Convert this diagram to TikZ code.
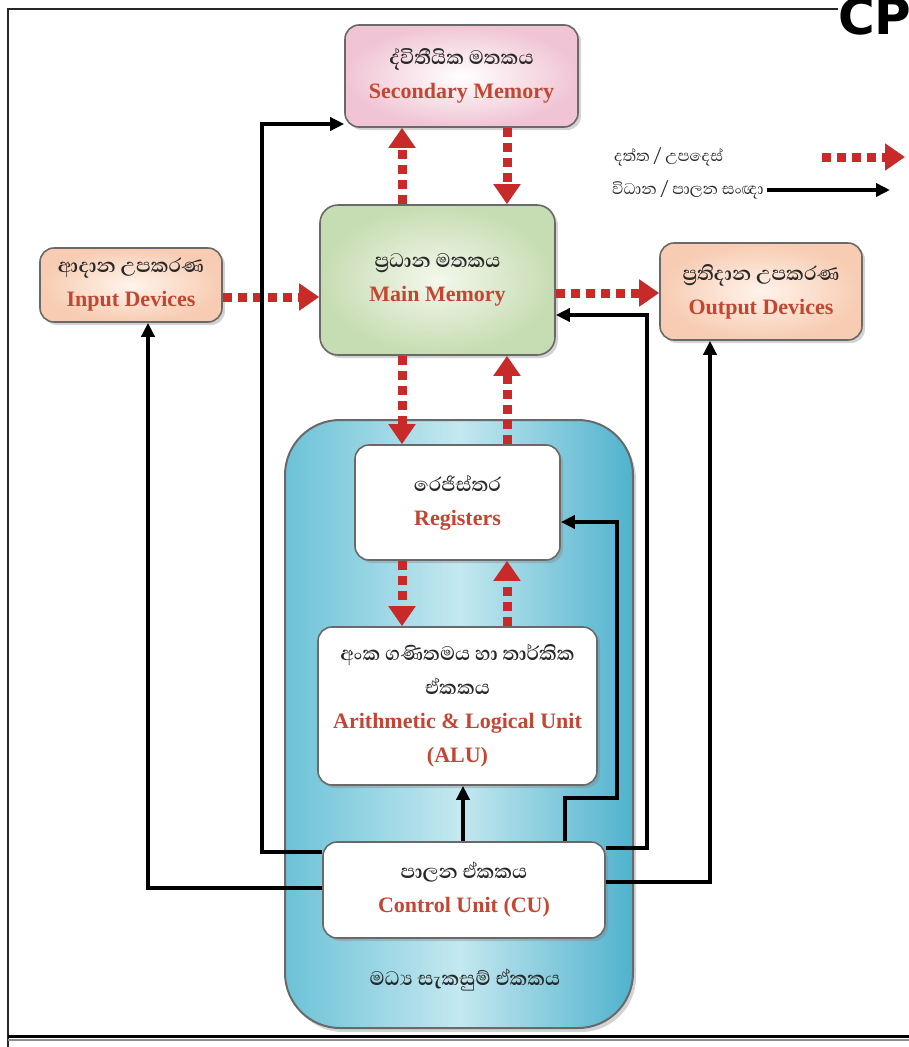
\documentclass[tikz,border=0pt]{standalone}
\usepackage{fontspec}
\setmainfont{Liberation Serif}
\newfontfamily\sinhalafont[Script=Sinhala]{Abhaya Libre}
\newfontfamily\headfont{DejaVu Sans}
\usetikzlibrary{arrows.meta,shadows}

\definecolor{engred}{RGB}{196,70,50}
\definecolor{sintext}{RGB}{40,40,40}
\definecolor{datared}{RGB}{200,42,42}
\definecolor{boxedge}{RGB}{105,105,105}
\definecolor{pinkout}{RGB}{240,196,212}
\definecolor{peachout}{RGB}{247,204,178}
\definecolor{peachin}{RGB}{255,243,235}
\definecolor{greenout}{RGB}{198,220,178}
\definecolor{greenin}{RGB}{244,248,236}
\definecolor{cpuleft}{RGB}{108,194,215}
\definecolor{cpumid}{RGB}{196,232,240}
\definecolor{cpuright}{RGB}{80,178,205}

\newcommand\sitxt[1]{{\sinhalafont\bfseries\fontsize{25}{34}\selectfont\color{sintext}#1}}
\newcommand\entxt[1]{{\bfseries\fontsize{22}{34}\selectfont\color{engred}#1}}
\newcommand\legtxt[1]{{\sinhalafont\fontsize{20}{24}\selectfont\color{sintext}#1}}

\tikzset{
  unit/.style={rounded corners=14pt, draw=boxedge, line width=1.6pt, align=center,
    inner sep=0pt, font=\fontsize{20}{34}\selectfont,
    drop shadow={shadow xshift=3pt, shadow yshift=-3pt, opacity=0.35}},
  whitebox/.style={unit, fill=white},
  pinkbox/.style={unit, shading=radial, inner color=white, outer color=pinkout},
  peachbox/.style={unit, shading=radial, inner color=peachin, outer color=peachout},
  greenbox/.style={unit, shading=radial, inner color=greenin, outer color=greenout, rounded corners=18pt},
  cpubox/.style={draw=boxedge, line width=2pt, rounded corners=55pt,
    left color=cpuleft, right color=cpuright, middle color=cpumid,
    drop shadow={shadow xshift=3pt, shadow yshift=-4pt, opacity=0.35}},
  data/.style={draw=datared, line width=9pt, dash pattern=on 9pt off 6pt,
    -{Triangle[length=20pt,width=26pt,fill=datared]}},
  ctrl/.style={draw=black, line width=3.5pt, -{Triangle[length=14pt,width=13pt]}},
  frame/.style={line width=2pt, draw=black!85}
}

\begin{document}
\begin{tikzpicture}[x=1pt,y=-1pt]
\useasboundingbox (0,0) rectangle (909,1047);

% heading and page frame
\node[anchor=base west, inner sep=0pt, font=\headfont\bfseries\fontsize{50}{50}\selectfont] (hd) at (838,34) {CP};
\draw[frame] (8,9) -- (hd.west |- 0,9);
\draw[frame] (8,8) -- (8,1047);
\draw[line width=3pt, black] (8,1036) -- (909,1036);
\draw[line width=1.5pt, black!45] (8,1040) -- (909,1040);

% processor enclosure
\node[cpubox, minimum width=348pt, minimum height=608pt] (cpu) at (459,724) {};
\node (cpulbl) at (465,980) {\sitxt{මධ්^^^^200dය සැකසුම් ඒකකය}};

% units
\node[pinkbox, minimum width=233pt, minimum height=102pt] (sec) at (461.5,76)
  {\sitxt{ද්විතීයික මතකය}\\\entxt{Secondary Memory}};
\node[peachbox, minimum width=182pt, minimum height=74pt] (inp) at (131,285)
  {\sitxt{ආදාන උපකරණ}\\\entxt{Input Devices}};
\node[greenbox, minimum width=235pt, minimum height=150pt] (main) at (437.5,280)
  {\sitxt{ප්^^^^200dරධාන මතකය}\\\entxt{Main Memory}};
\node[peachbox, minimum width=202pt, minimum height=97pt] (out) at (761,291.5)
  {\sitxt{ප්^^^^200dරතිදාන උපකරණ}\\\entxt{Output Devices}};
\node[whitebox, minimum width=205pt, minimum height=115pt] (reg) at (457.5,502.5)
  {\sitxt{රෙජිස්තර}\\\entxt{Registers}};
\node[whitebox, minimum width=279pt, minimum height=158pt] (alu) at (457.5,706)
  {\sitxt{අංක ගණිතමය හා තාර්කික}\\\sitxt{ඒකකය}\\\entxt{Arithmetic \& Logical Unit}\\\entxt{(ALU)}};
\node[whitebox, minimum width=282pt, minimum height=96pt] (cu) at (464,890)
  {\sitxt{පාලන ඒකකය}\\\entxt{Control Unit (CU)}};

% data / instruction flow
\coordinate (dl) at (402,0);
\coordinate (dr) at (507,0);
\coordinate (hy1) at (0,297);
\coordinate (hy2) at (0,293);
\draw[data] (main.north -| dl) -- (sec.south -| dl);
\draw[data] (sec.south -| dr) -- (main.north -| dr);
\draw[data] (inp.east |- hy1) -- (main.west |- hy1);
\draw[data] (main.east |- hy2) -- (out.west |- hy2);
\draw[data] (main.south -| dl) -- (reg.north -| dl);
\draw[data] (reg.north -| dr) -- (main.south -| dr);
\draw[data] (reg.south -| dl) -- (alu.north -| dl);
\draw[data] (alu.north -| dr) -- (reg.south -| dr);

% control signals from the control unit
\coordinate (s1) at (262,852);
\coordinate (s2) at (262,124);
\draw[ctrl] (s1 -| cu.west) -- (s1) -- (s2) -- (s2 -| sec.west);
\coordinate (i1) at (148,888);
\draw[ctrl] (i1 -| cu.west) -- (i1) -- (i1 |- inp.south);
\coordinate (a1) at (463,0);
\draw[ctrl] (cu.north -| a1) -- (alu.south -| a1);
\coordinate (r1) at (565,798);
\coordinate (r2) at (617,798);
\coordinate (r3) at (617,522);
\draw[ctrl] (cu.north -| r1) -- (r1) -- (r2) -- (r3) -- (r3 -| reg.east);
\coordinate (m1) at (647,848);
\coordinate (m2) at (647,315);
\draw[ctrl] (m1 -| cu.east) -- (m1) -- (m2) -- (m2 -| main.east);
\coordinate (o1) at (710,882);
\draw[ctrl] (o1 -| cu.east) -- (o1) -- (o1 |- out.south);

% legend
\node[anchor=west, inner sep=0pt] (lg1) at (614,157) {\legtxt{දත්ත / උපදෙස්}};
\coordinate (lg1s) at (822,157);
\coordinate (lg1e) at (905,157);
\draw[data] (lg1s) -- (lg1e);
\node[anchor=west, inner sep=0pt] (lg2) at (612,190) {\legtxt{විධාන / පාලන සංඥා}};
\coordinate (lg2e) at (890,190);
\draw[ctrl] ([xshift=3pt]lg2.east) -- (lg2e);
\end{tikzpicture}
\end{document}
